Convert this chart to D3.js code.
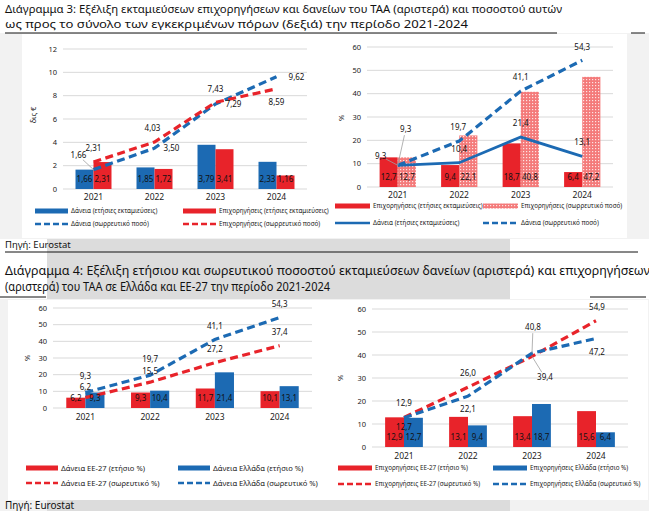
<!DOCTYPE html>
<html>
<head>
<meta charset="utf-8">
<script src="https://cdn.jsdelivr.net/npm/d3@7"></script>
<style>
  body { margin: 0; background: #fff; }
  svg { display: block; font-family: "Noto Sans", "DejaVu Sans", sans-serif; }
</style>
</head>
<body>
<svg id="chart" width="649" height="511"></svg>
<script>
// --- DATA ---
const years = ["2021", "2022", "2023", "2024"];

// Διάγραμμα 3, αριστερά (δις €)
const loansAnnual = [1.66, 1.85, 3.79, 2.33];
const grantsAnnual = [2.31, 1.72, 3.41, 1.16];
const loansCum = [1.66, 3.50, 7.29, 9.62];
const grantsCum = [2.31, 4.03, 7.43, 8.59];

// Διάγραμμα 3, δεξιά (%)
const grantsPctAnnual = [12.7, 9.4, 18.7, 6.4];
const grantsPctCum = [12.7, 22.1, 40.8, 47.2];
const loansPctAnnual = [9.3, 10.4, 21.4, 13.1];
const loansPctCum = [9.3, 19.7, 41.1, 54.3];

// Διάγραμμα 4, αριστερά (δάνεια %)
const loansEUAnnual = [6.2, 9.3, 11.7, 10.1];
const loansGRAnnual = [9.3, 10.4, 21.4, 13.1];
const loansEUCum = [6.2, 15.5, 27.2, 37.4];
const loansGRCum = [9.3, 19.7, 41.1, 54.3];

// Διάγραμμα 4, δεξιά (επιχορηγήσεις %)
const grantsEUAnnual = [12.9, 13.1, 13.4, 15.6];
const grantsGRAnnual = [12.7, 9.4, 18.7, 6.4];
const grantsEUCum = [12.9, 26.0, 39.4, 54.9];
const grantsGRCum = [12.7, 22.1, 40.8, 47.2];

const ticksMoney = [0, 2, 4, 6, 8, 10, 12];
const ticksPct = [0, 10, 20, 30, 40, 50, 60];

const title3 = ["Διάγραμμα 3: Εξέλιξη εκταμιεύσεων επιχορηγήσεων και δανείων του ΤΑΑ (αριστερά) και ποσοστού αυτών",
                "ως προς το σύνολο των εγκεκριμένων πόρων (δεξιά) την περίοδο 2021-2024"];
const title4 = ["Διάγραμμα 4: Εξέλιξη ετήσιου και σωρευτικού ποσοστού εκταμιεύσεων δανείων (αριστερά) και επιχορηγήσεων",
                "(αριστερά) του ΤΑΑ σε Ελλάδα και ΕΕ-27 την περίοδο 2021-2024"];
const source = "Πηγή: Eurostat";

// --- STYLE ---
const RED = "#e8232a", BLUE = "#1c6ab3", GRID = "#d9d9d9", TXT = "#222";
const loc = d3.formatLocale({ decimal: ",", thousands: ".", grouping: [3], currency: ["", "€"] });
const f2 = loc.format(".2f"), f1 = loc.format(".1f");

const svg = d3.select("#chart");
const defs = svg.append("defs");
// dotted fill of the cumulative grants bars
const pat = defs.append("pattern").attr("id", "dots")
  .attr("width", 3).attr("height", 3).attr("patternUnits", "userSpaceOnUse");
pat.append("rect").attr("width", 3).attr("height", 3).attr("fill", "#f47a7a");
pat.append("rect").attr("x", 1).attr("y", 1).attr("width", 1.2).attr("height", 1.2).attr("fill", "#fde3e3");

// --- PAGE BACKGROUND ---
svg.append("rect").attr("x", 0).attr("y", 33).attr("width", 649).attr("height", 206).attr("fill", "#f2f2f2");
svg.append("rect").attr("x", 22).attr("y", 34).attr("width", 605).attr("height", 204).attr("fill", "#fff");
svg.append("rect").attr("x", 47).attr("y", 239).attr("width", 463).attr("height", 60).attr("fill", "#dcdcdc");
svg.append("rect").attr("x", 0).attr("y", 299).attr("width", 649).attr("height", 212).attr("fill", "#f2f2f2");
svg.append("rect").attr("x", 8).attr("y", 300).attr("width", 640).attr("height", 200).attr("fill", "#fff");
svg.append("rect").attr("x", 47).attr("y", 500).attr("width", 463).attr("height", 11).attr("fill", "#dcdcdc");

const rule = (x1, x2, y) => svg.append("line").attr("x1", x1).attr("x2", x2).attr("y1", y).attr("y2", y)
  .attr("stroke", "#111").attr("stroke-width", 1);
rule(5, 557, 33); rule(631, 645, 33);
rule(5, 638, 252);
rule(0, 46, 297); rule(590, 646, 297);

const titleLine = (t, x, y, size, len) => svg.append("text").attr("x", x).attr("y", y)
  .attr("font-size", size).attr("fill", "#111").attr("textLength", len)
  .attr("lengthAdjust", "spacingAndGlyphs").text(t);
titleLine(title3[0], 5, 13, 11.5, 557);
titleLine(title3[1], 5, 28, 11.5, 463);
titleLine(title4[0], 5, 275, 12, 645);
titleLine(title4[1], 5, 291, 12, 325);
svg.append("text").attr("x", 5).attr("y", 248).attr("font-size", 9.5).attr("fill", "#111").text(source);
svg.append("text").attr("x", 5).attr("y", 509).attr("font-size", 10).attr("fill", "#111").text(source);

// --- PANELS ---
function drawPanel(c) {
  const g = svg.append("g");
  const y = d3.scaleLinear().domain([0, c.ticks[c.ticks.length - 1]]).range([c.y0, c.y1]);
  const x = d3.scaleBand().domain(years).range([c.x0, c.x1]).paddingInner(0.41).paddingOuter(0.205);
  const xs = d3.scaleBand().domain(d3.range(c.bars.length)).range([0, x.bandwidth()]);
  const cx = d => x(d) + x.bandwidth() / 2;

  // grid + y ticks
  g.selectAll(".grid").data(c.ticks).join("line")
    .attr("x1", c.x0).attr("x2", c.x1).attr("y1", d => y(d)).attr("y2", d => y(d))
    .attr("stroke", GRID).attr("stroke-width", 1);
  g.selectAll(".tick").data(c.ticks).join("text")
    .attr("x", c.x0 - 6).attr("y", d => y(d)).attr("dy", "0.35em")
    .attr("text-anchor", "end").attr("font-size", 7.5).attr("fill", TXT).text(d => d);
  g.append("text").attr("transform", `translate(${c.axisTitle[1]},${c.axisTitle[2]}) rotate(-90)`)
    .attr("text-anchor", "middle").attr("dy", "0.35em").attr("font-size", 7.5).attr("fill", TXT).text(c.axisTitle[0]);
  g.selectAll(".year").data(years).join("text")
    .attr("x", cx).attr("y", c.yearY).attr("dy", "0.35em").attr("text-anchor", "middle")
    .attr("font-size", 8.5).attr("fill", TXT).text(d => d);

  // bars
  c.bars.forEach((s, i) => {
    g.selectAll(null).data(s.values).join("rect")
      .attr("x", (d, j) => x(years[j]) + xs(i)).attr("width", xs.bandwidth())
      .attr("y", d => y(d)).attr("height", d => y(0) - y(d)).attr("fill", s.fill);
  });

  // lines
  c.lines.forEach(s => {
    const line = d3.line().x((d, j) => cx(years[j])).y(d => y(d));
    g.append("path").datum(s.values).attr("d", line).attr("fill", "none")
      .attr("stroke", s.color).attr("stroke-width", s.dash ? 3.2 : 2.8)
      .attr("stroke-dasharray", s.dash ? "8,4.5" : null);
  });

  // bar labels
  c.bars.forEach((s, i) => {
    g.selectAll(null).data(s.values).join("text")
      .attr("x", (d, j) => x(years[j]) + xs(i) + xs.bandwidth() / 2).attr("y", y(0) - 10)
      .attr("dy", "0.35em").attr("text-anchor", "middle").attr("font-size", 8)
      .attr("fill", "#111").text(d => c.fmt(d));
  });

  // line labels (+ leader lines)
  c.lines.forEach(s => {
    s.values.forEach((v, j) => {
      const off = s.lab[j];
      const px = cx(years[j]), py = y(v), lx = px + off[0], ly = py + off[1];
      if (off[2]) {
        const L = Math.hypot(off[0], off[1]);
        g.append("line").attr("x1", px).attr("y1", py)
          .attr("x2", lx - off[0] / L * 6).attr("y2", ly - off[1] / L * 6)
          .attr("stroke", "#a0a0a0").attr("stroke-width", 0.8);
      }
      g.append("text").attr("x", lx).attr("y", ly).attr("dy", "0.35em")
        .attr("text-anchor", "middle").attr("font-size", 8).attr("fill", "#111").text(c.fmt(v));
    });
  });

  // legend
  c.legend.forEach(it => {
    const w = c.swatchW;
    if (it.type === "bar") {
      g.append("rect").attr("x", it.x).attr("y", it.y - 2.5).attr("width", w).attr("height", 5).attr("fill", it.fill);
    } else {
      g.append("line").attr("x1", it.x).attr("x2", it.x + w).attr("y1", it.y).attr("y2", it.y)
        .attr("stroke", it.color).attr("stroke-width", 2.6)
        .attr("stroke-dasharray", it.type === "dash" ? "6,3" : null);
    }
    g.append("text").attr("x", it.x + w + 3).attr("y", it.y).attr("dy", "0.35em")
      .attr("font-size", c.legendSize).attr("fill", TXT).text(it.label);
  });
}

drawPanel({
  x0: 63, x1: 307, y0: 189, y1: 49, ticks: ticksMoney, fmt: f2, yearY: 197,
  axisTitle: ["δις €", 33, 115],
  bars: [{ values: loansAnnual, fill: BLUE }, { values: grantsAnnual, fill: RED }],
  lines: [
    { values: loansCum, color: BLUE, dash: true, lab: [[-15, -14, true], [17, 0], [18, 0], [20, 0]] },
    { values: grantsCum, color: RED, dash: true, lab: [[0, -14], [-2, -14], [0, -13], [0, 13]] }
  ],
  swatchW: 33, legendSize: 6.3,
  legend: [
    { type: "bar", fill: BLUE, x: 35, y: 211, label: "Δάνεια (ετήσιες εκταμιεύσεις)" },
    { type: "bar", fill: RED, x: 183, y: 211, label: "Επιχορηγήσεις (ετήσιες εκταμιεύσεις)" },
    { type: "dash", color: BLUE, x: 35, y: 224, label: "Δάνεια (σωρρευτικό ποσό)" },
    { type: "dash", color: RED, x: 183, y: 224, label: "Επιχορηγήσεις (σωρρευτικό ποσό)" }
  ]
});

drawPanel({
  x0: 367, x1: 613, y0: 187, y1: 47, ticks: ticksPct, fmt: f1, yearY: 195,
  axisTitle: ["%", 341, 118],
  bars: [{ values: grantsPctAnnual, fill: RED }, { values: grantsPctCum, fill: "url(#dots)" }],
  lines: [
    { values: loansPctAnnual, color: BLUE, dash: false, lab: [[-17, -9, true], [0, -14], [0, -14], [0, -14]] },
    { values: loansPctCum, color: BLUE, dash: true, lab: [[8, -36, true], [-1, -14], [0, -14], [0, -13]] }
  ],
  swatchW: 35, legendSize: 6.3,
  legend: [
    { type: "bar", fill: RED, x: 335, y: 206, label: "Επιχορηγήσεις (ετήσιες εκταμιεύσεις)" },
    { type: "bar", fill: "url(#dots)", x: 483, y: 206, label: "Επιχορηγήσεις (σωρρευτικό ποσό)" },
    { type: "line", color: BLUE, x: 335, y: 223, label: "Δάνεια (ετήσιες εκταμιεύσεις)" },
    { type: "dash", color: BLUE, x: 483, y: 223, label: "Δάνεια (σωρρευτικό ποσό)" }
  ]
});

drawPanel({
  x0: 53, x1: 312, y0: 408, y1: 308, ticks: ticksPct, fmt: f1, yearY: 417,
  axisTitle: ["%", 27, 358],
  bars: [{ values: loansEUAnnual, fill: RED }, { values: loansGRAnnual, fill: BLUE }],
  lines: [
    { values: loansEUCum, color: RED, dash: true, lab: [[0, -10], [0, -10.5], [0, -13.5], [0, -13.5]] },
    { values: loansGRCum, color: BLUE, dash: true, lab: [[0, -16.5], [0, -16], [0, -13.5], [0, -13.5]] }
  ],
  swatchW: 32, legendSize: 7.6,
  legend: [
    { type: "bar", fill: RED, x: 26, y: 468, label: "Δάνεια ΕΕ-27 (ετήσιο %)" },
    { type: "bar", fill: BLUE, x: 178, y: 468, label: "Δάνεια Ελλάδα (ετήσιο %)" },
    { type: "dash", color: RED, x: 26, y: 483, label: "Δάνεια ΕΕ-27 (σωρευτικό %)" },
    { type: "dash", color: BLUE, x: 178, y: 483, label: "Δάνεια Ελλάδα (σωρευτικό %)" }
  ]
});

drawPanel({
  x0: 372, x1: 628, y0: 447, y1: 309, ticks: ticksPct, fmt: f1, yearY: 456,
  axisTitle: ["%", 340, 378],
  bars: [{ values: grantsEUAnnual, fill: RED }, { values: grantsGRAnnual, fill: BLUE }],
  lines: [
    { values: grantsEUCum, color: RED, dash: true, lab: [[0, -14], [0, -14], [13, 21, true], [1, -14]] },
    { values: grantsGRCum, color: BLUE, dash: true, lab: [[0, 9.5], [0, 13], [1, -26, true], [1, 14]] }
  ],
  swatchW: 34, legendSize: 6.3,
  legend: [
    { type: "bar", fill: RED, x: 338, y: 468, label: "Επιχορηγήσεις ΕΕ-27 (ετήσιο %)" },
    { type: "bar", fill: BLUE, x: 493, y: 468, label: "Επιχορηγήσεις Ελλάδα (ετήσιο %)" },
    { type: "dash", color: RED, x: 338, y: 484, label: "Επιχορηγήσεις ΕΕ-27 (σωρευτικό %)" },
    { type: "dash", color: BLUE, x: 493, y: 484, label: "Επιχορηγήσεις Ελλάδα (σωρευτικό %)" }
  ]
});
</script>
</body>
</html>
